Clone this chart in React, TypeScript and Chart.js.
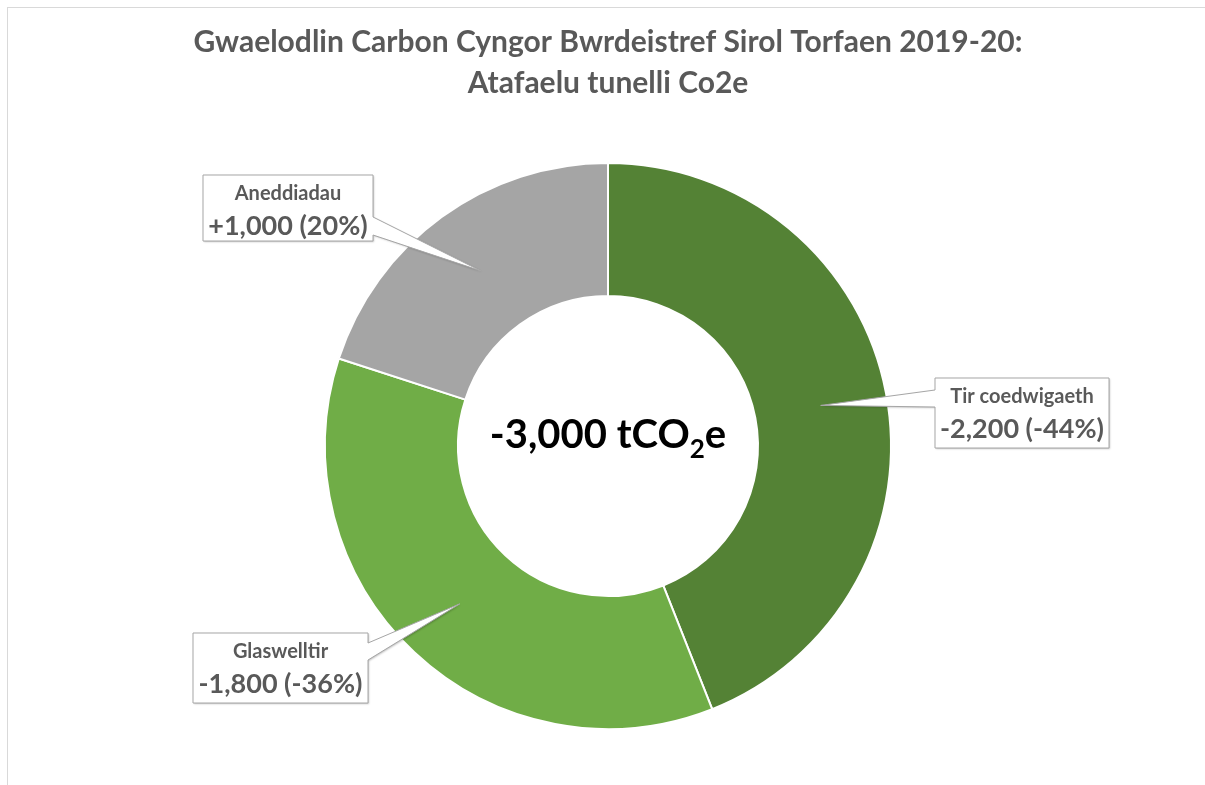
import React, { useEffect, useRef } from 'react';
import { Chart, registerables } from 'chart.js';

Chart.register(...registerables);

const categories = ['Tir coedwigaeth', 'Glaswelltir', 'Aneddiadau'];
const values = [-2200, -1800, 1000];
const colors = ['#548235', '#70AD47', '#A5A5A5'];
const titleLines = [
  'Gwaelodlin Carbon Cyngor Bwrdeistref Sirol Torfaen 2019-20:',
  'Atafaelu tunelli Co2e',
];
const centerUnit = ['tCO', '2', 'e'];

const FONT = 'Lato, "Open Sans", sans-serif';
const TEXT_COLOR = '#595959';

// layout of the callout boxes (same order as categories)
const callouts = [
  { x: 935, y: 378, w: 174, h: 70, side: 'left', b1: 390, b2: 407 },
  { x: 193, y: 633, w: 175, h: 70, side: 'right', b1: 643, b2: 660 },
  { x: 203, y: 175, w: 170, h: 66, side: 'right', b1: 217, b2: 235 },
];

const fmt = (v: number) => {
  const s = Math.abs(v).toLocaleString('en-US');
  return (v < 0 ? '-' : '+') + s;
};

export default function App() {
  const ref = useRef<HTMLCanvasElement>(null);

  useEffect(() => {
    const canvas = ref.current;
    if (!canvas) return;
    const absTotal = values.reduce((a, b) => a + Math.abs(b), 0);
    const net = values.reduce((a, b) => a + b, 0);

    const overlay = {
      id: 'overlay',
      beforeDraw(chart: any) {
        const ctx = chart.ctx;
        ctx.save();
        ctx.fillStyle = '#ffffff';
        ctx.fillRect(0, 0, chart.width, chart.height);
        ctx.strokeStyle = '#d9d9d9';
        ctx.lineWidth = 1;
        ctx.strokeRect(7.5, 7.5, chart.width + 20, chart.height + 20);
        // title
        ctx.fillStyle = TEXT_COLOR;
        ctx.font = `bold 30px ${FONT}`;
        ctx.textAlign = 'center';
        ctx.textBaseline = 'alphabetic';
        ctx.fillText(titleLines[0], 608, 52);
        ctx.fillText(titleLines[1], 608, 93);
        ctx.restore();
      },
      afterDatasetsDraw(chart: any) {
        const ctx = chart.ctx;
        const meta = chart.getDatasetMeta(0);
        ctx.save();
        meta.data.forEach((arc: any, i: number) => {
          const c = callouts[i];
          const tip = arc.getCenterPoint();
          const { x, y, w, h } = c;
          ctx.beginPath();
          ctx.moveTo(x, y);
          ctx.lineTo(x + w, y);
          if (c.side === 'right') {
            ctx.lineTo(x + w, c.b1);
            ctx.lineTo(tip.x, tip.y);
            ctx.lineTo(x + w, c.b2);
          }
          ctx.lineTo(x + w, y + h);
          ctx.lineTo(x, y + h);
          if (c.side === 'left') {
            ctx.lineTo(x, c.b2);
            ctx.lineTo(tip.x, tip.y);
            ctx.lineTo(x, c.b1);
          }
          ctx.closePath();
          ctx.shadowColor = 'rgba(0,0,0,0.25)';
          ctx.shadowBlur = 2;
          ctx.shadowOffsetX = 1;
          ctx.shadowOffsetY = 1;
          ctx.fillStyle = '#ffffff';
          ctx.fill();
          ctx.shadowColor = 'transparent';
          ctx.strokeStyle = '#a6a6a6';
          ctx.lineWidth = 1;
          ctx.stroke();

          const v = values[i];
          const pct = Math.round((Math.abs(v) / absTotal) * 100);
          const pctStr = (v < 0 ? '-' : '') + pct + '%';
          ctx.fillStyle = TEXT_COLOR;
          ctx.textAlign = 'center';
          ctx.textBaseline = 'alphabetic';
          const cx = x + w / 2;
          ctx.font = `bold 20px ${FONT}`;
          ctx.fillText(categories[i], cx, y + 25);
          ctx.font = `bold 27px ${FONT}`;
          ctx.fillText(`${fmt(v)} (${pctStr})`, cx, y + 60);
        });

        // center text
        const a0: any = meta.data[0];
        const ccx = a0.x;
        const base = a0.y + 2;
        const mainStr = (net < 0 ? '-' : '') + Math.abs(net).toLocaleString('en-US') + ' ' + centerUnit[0];
        ctx.textBaseline = 'alphabetic';
        ctx.textAlign = 'left';
        ctx.fillStyle = '#000000';
        ctx.font = `bold 40px ${FONT}`;
        const w1 = ctx.measureText(mainStr).width;
        const w3 = ctx.measureText(centerUnit[2]).width;
        ctx.font = `bold 26px ${FONT}`;
        const w2 = ctx.measureText(centerUnit[1]).width;
        const total = w1 + w2 + w3;
        let sx = ccx - total / 2;
        ctx.font = `bold 40px ${FONT}`;
        ctx.fillText(mainStr, sx, base);
        sx += w1;
        ctx.font = `bold 26px ${FONT}`;
        ctx.fillText(centerUnit[1], sx, base + 10);
        sx += w2;
        ctx.font = `bold 40px ${FONT}`;
        ctx.fillText(centerUnit[2], sx, base);
        ctx.restore();
      },
    };

    const chart = new Chart(canvas, {
      type: 'doughnut',
      data: {
        labels: categories,
        datasets: [
          {
            data: values.map((v) => Math.abs(v)),
            backgroundColor: colors,
            borderColor: '#ffffff',
            borderWidth: 2,
          },
        ],
      },
      options: {
        responsive: false,
        animation: false,
        cutout: '53%',
        layout: { padding: { left: 11, right: 0, top: 162, bottom: 55 } },
        plugins: {
          legend: { display: false },
          tooltip: { enabled: false },
          title: { display: false },
        },
      },
      plugins: [overlay],
    });
    return () => chart.destroy();
  }, []);

  return (
    <div style={{ position: 'fixed', left: 0, top: 0, width: 1205, height: 785 }}>
      <canvas ref={ref} width={1205} height={785} style={{ display: 'block' }} />
    </div>
  );
}
